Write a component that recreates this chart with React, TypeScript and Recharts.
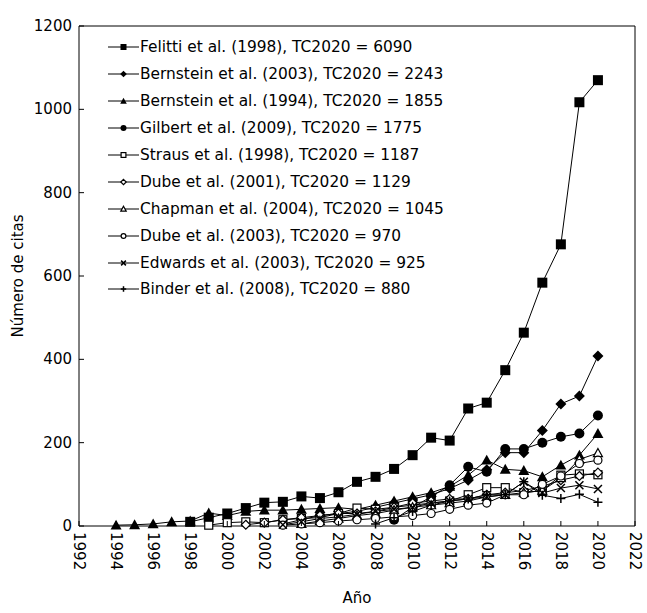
import { LineChart, Line, XAxis, YAxis, ReferenceLine } from 'recharts'

const years = [1994, 1995, 1996, 1997, 1998, 1999, 2000, 2001, 2002, 2003, 2004, 2005, 2006, 2007, 2008, 2009, 2010, 2011, 2012, 2013, 2014, 2015, 2016, 2017, 2018, 2019, 2020]

const felitti = [null, null, null, null, 10, 20, 30, 43, 56, 58, 71, 67, 81, 106, 118, 137, 170, 212, 205, 282, 296, 374, 464, 584, 676, 1017, 1070]
const bernstein03 = [null, null, null, null, null, null, null, null, null, 5, 15, 25, 30, 35, 45, 55, 65, 75, 90, 110, 135, 176, 176, 229, 293, 312, 408]
const bernstein94 = [2, 3, 5, 10, 12, 31, 25, 35, 38, 38, 40, 42, 44, 40, 50, 60, 70, 80, 95, 122, 158, 136, 133, 118, 146, 170, 222]
const gilbert = [null, null, null, null, null, null, null, null, null, null, null, null, null, null, null, 15, 45, 70, 98, 142, 130, 185, 185, 200, 214, 222, 265]
const straus = [null, null, null, null, null, 2, 8, 10, 8, 15, 18, 20, 30, 43, 40, 45, 50, 55, 60, 75, 92, 92, 80, 85, 122, 125, 123]
const dube01 = [null, null, null, null, null, null, null, 3, 8, 15, 20, 25, 30, 30, 35, 45, 55, 60, 65, 65, 75, 80, 85, 95, 110, 120, 128]
const chapman = [null, null, null, null, null, null, null, null, null, null, 5, 12, 18, 25, 30, 38, 45, 50, 55, 60, 70, 75, 80, 85, 115, 160, 175]
const dube03 = [null, null, null, null, null, null, null, null, null, 2, 5, 8, 12, 15, 18, 22, 25, 30, 40, 50, 55, 75, 75, 100, 120, 150, 158]
const edwards = [null, null, null, null, null, null, null, null, null, 3, 10, 18, 22, 28, 35, 40, 45, 55, 60, 65, 70, 75, 106, 79, 91, 98, 89]
const binder = [null, null, null, null, null, null, null, null, null, null, null, null, null, null, 5, 20, 35, 50, 60, 65, 75, 75, 106, 74, 66, 76, 57]

const xTicks = [1992, 1994, 1996, 1998, 2000, 2002, 2004, 2006, 2008, 2010, 2012, 2014, 2016, 2018, 2020, 2022]
const yTicks = [0, 200, 400, 600, 800, 1000, 1200]

type Shape = 'square' | 'diamond' | 'triangle' | 'circle' | 'squareOpen' | 'diamondOpen' | 'triangleOpen' | 'circleOpen' | 'cross' | 'plus'

const series: { key: string; name: string; shape: Shape; values: (number | null)[]; size: number }[] = [
  { key: 'felitti', name: 'Felitti et al. (1998), TC2020 = 6090', shape: 'square', values: felitti, size: 10 },
  { key: 'bernstein03', name: 'Bernstein et al. (2003), TC2020 = 2243', shape: 'diamond', values: bernstein03, size: 11 },
  { key: 'bernstein94', name: 'Bernstein et al. (1994), TC2020 = 1855', shape: 'triangle', values: bernstein94, size: 11 },
  { key: 'gilbert', name: 'Gilbert et al. (2009), TC2020 = 1775', shape: 'circle', values: gilbert, size: 10 },
  { key: 'straus', name: 'Straus et al. (1998), TC2020 = 1187', shape: 'squareOpen', values: straus, size: 8 },
  { key: 'dube01', name: 'Dube et al. (2001), TC2020 = 1129', shape: 'diamondOpen', values: dube01, size: 9 },
  { key: 'chapman', name: 'Chapman et al. (2004), TC2020 = 1045', shape: 'triangleOpen', values: chapman, size: 9 },
  { key: 'dube03', name: 'Dube et al. (2003), TC2020 = 970', shape: 'circleOpen', values: dube03, size: 8 },
  { key: 'edwards', name: 'Edwards et al. (2003), TC2020 = 925', shape: 'cross', values: edwards, size: 8 },
  { key: 'binder', name: 'Binder et al. (2008), TC2020 = 880', shape: 'plus', values: binder, size: 9 },
]

const data = years.map((year, i) => {
  const row: Record<string, number | null> = { year }
  series.forEach(s => {
    row[s.key] = s.values[i]
  })
  return row
})

const FONT = 'DejaVu Sans'

function Marker({ shape, cx, cy, s }: { shape: Shape; cx: number; cy: number; s: number }) {
  const h = s / 2
  const open = { fill: '#fff', stroke: '#000', strokeWidth: 1.2 }
  switch (shape) {
    case 'square':
      return <rect x={cx - h} y={cy - h} width={s} height={s} fill="#000" />
    case 'squareOpen':
      return <rect x={cx - h} y={cy - h} width={s} height={s} {...open} />
    case 'diamond':
      return <polygon points={`${cx},${cy - h} ${cx + h},${cy} ${cx},${cy + h} ${cx - h},${cy}`} fill="#000" />
    case 'diamondOpen':
      return <polygon points={`${cx},${cy - h} ${cx + h},${cy} ${cx},${cy + h} ${cx - h},${cy}`} {...open} />
    case 'triangle':
      return <polygon points={`${cx},${cy - h} ${cx + h},${cy + h * 0.8} ${cx - h},${cy + h * 0.8}`} fill="#000" />
    case 'triangleOpen':
      return <polygon points={`${cx},${cy - h} ${cx + h},${cy + h * 0.8} ${cx - h},${cy + h * 0.8}`} {...open} />
    case 'circle':
      return <circle cx={cx} cy={cy} r={h} fill="#000" />
    case 'circleOpen':
      return <circle cx={cx} cy={cy} r={h} {...open} />
    case 'cross':
      return <path d={`M${cx - h},${cy - h}L${cx + h},${cy + h}M${cx + h},${cy - h}L${cx - h},${cy + h}`} stroke="#000" strokeWidth={1.5} />
    case 'plus':
      return <path d={`M${cx - h},${cy}L${cx + h},${cy}M${cx},${cy - h}L${cx},${cy + h}`} stroke="#000" strokeWidth={1.5} />
  }
  return null
}

function YTick({ x, y, payload }: any) {
  return (
    <g>
      <line x1={x} x2={x + 5} y1={y} y2={y} stroke="#000" />
      <text x={x - 7} y={y} textAnchor="end" dominantBaseline="central" fontFamily={FONT} fontSize={15} fill="#000">
        {payload.value}
      </text>
    </g>
  )
}

function XTick({ x, y, payload }: any) {
  return (
    <g>
      <line x1={x} x2={x} y1={y} y2={y - 5} stroke="#000" />
      <text
        x={x}
        y={y + 6}
        transform={`rotate(90, ${x}, ${y + 6})`}
        textAnchor="start"
        dominantBaseline="central"
        fontFamily={FONT}
        fontSize={15}
        fill="#000"
      >
        {payload.value}
      </text>
    </g>
  )
}

function LegendBox() {
  return (
    <div style={{ position: 'absolute', left: 108, top: 34, fontFamily: FONT, fontSize: 15.4, color: '#000' }}>
      {series.map(s => (
        <div key={s.key} style={{ display: 'flex', alignItems: 'center', height: 26.9, whiteSpace: 'nowrap' }}>
          <svg width={31} height={12} style={{ marginRight: 1 }}>
            <line x1={0} x2={31} y1={6} y2={6} stroke="#000" />
            <Marker shape={s.shape} cx={15.5} cy={6} s={s.size * 0.6} />
          </svg>
          <span>{s.name}</span>
        </div>
      ))}
    </div>
  )
}

export default function App() {
  return (
    <div style={{ position: 'absolute', left: 0, top: 0, width: 647, height: 613, background: '#fff' }}>
      <LineChart width={647} height={613} data={data} margin={{ top: 26, right: 12, left: 0, bottom: 0 }}>
        <XAxis
          dataKey="year"
          type="number"
          domain={[1992, 2022]}
          ticks={xTicks}
          interval={0}
          height={87}
          tickSize={0}
          tickMargin={0}
          tickLine={false}
          axisLine={{ stroke: '#000' }}
          tick={<XTick />}
          label={{
            content: () => (
              <text x={357} y={598} textAnchor="middle" dominantBaseline="central" fontFamily={FONT} fontSize={15} fill="#000">
                Año
              </text>
            ),
          }}
        />
        <YAxis
          type="number"
          domain={[0, 1200]}
          ticks={yTicks}
          interval={0}
          width={79}
          tickSize={0}
          tickMargin={0}
          tickLine={false}
          axisLine={{ stroke: '#000' }}
          tick={<YTick />}
          label={{
            content: () => (
              <text x={18} y={276} transform="rotate(-90, 18, 276)" textAnchor="middle" dominantBaseline="central" fontFamily={FONT} fontSize={15} fill="#000">
                Número de citas
              </text>
            ),
          }}
        />
        <ReferenceLine y={1200} stroke="#000" />
        <ReferenceLine x={2022} stroke="#000" />
        {series.map(s => (
          <Line
            key={s.key}
            dataKey={s.key}
            name={s.name}
            stroke="#000"
            strokeWidth={1}
            isAnimationActive={false}
            activeDot={false}
            dot={(p: any) =>
              p.cy == null || p.value == null ? (
                <g key={`${s.key}-${p.index}`} />
              ) : (
                <Marker key={`${s.key}-${p.index}`} shape={s.shape} cx={p.cx} cy={p.cy} s={s.size} />
              )
            }
          />
        ))}
      </LineChart>
      <LegendBox />
    </div>
  )
}
